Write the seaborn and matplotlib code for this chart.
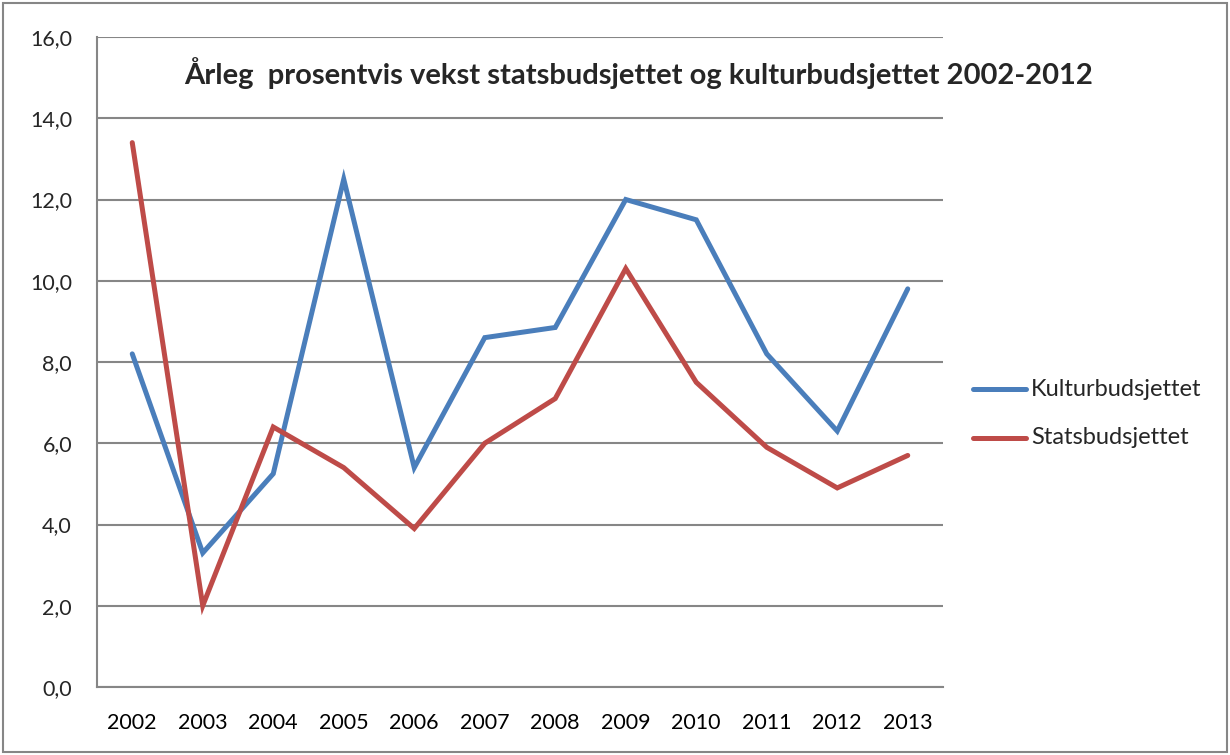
import numpy as np
import pandas as pd
import matplotlib
matplotlib.use("Agg")
import matplotlib.pyplot as plt
from matplotlib.patches import Rectangle
import seaborn as sns

years = ["2002", "2003", "2004", "2005", "2006", "2007",
         "2008", "2009", "2010", "2011", "2012", "2013"]
kultur = [8.2, 3.3, 5.25, 12.5, 5.4, 8.6, 8.85, 12.0, 11.5, 8.2, 6.3, 9.8]
stats = [13.4, 2.0, 6.4, 5.4, 3.9, 6.0, 7.1, 10.3, 7.5, 5.9, 4.9, 5.7]
series_names = ["Kulturbudsjettet", "Statsbudsjettet"]
colors = ["#4A7EBB", "#BE4B48"]
y_ticks = [0, 2, 4, 6, 8, 10, 12, 14, 16]
title = "Årleg  prosentvis vekst statsbudsjettet og kulturbudsjettet 2002-2012"

sns.set_style("white")
plt.rcParams["font.family"] = ["Lato", "DejaVu Sans"]

df = pd.DataFrame({
    "pos": list(range(len(years))) * 2,
    "value": kultur + stats,
    "serie": [series_names[0]] * len(years) + [series_names[1]] * len(years),
})

fig = plt.figure(figsize=(12.3, 7.55), dpi=100)
ax = fig.add_axes([97 / 1230, 68 / 755, (943 - 97) / 1230, (687 - 37) / 755])

sns.lineplot(data=df, x="pos", y="value", hue="serie", palette=colors,
             linewidth=3.6, ax=ax, legend=False, solid_capstyle="round",
             solid_joinstyle="miter")

ax.set_xlim(-0.5, len(years) - 0.5)
ax.set_ylim(0, 16)
ax.set_yticks(y_ticks)
ax.set_yticklabels([f"{v:.1f}".replace(".", ",") for v in y_ticks])
ax.set_xticks(range(len(years)))
ax.set_xticklabels(years)
ax.set_xticks(np.arange(-0.5, len(years), 1.0), minor=True)
ax.tick_params(axis="x", which="major", length=0, labelsize=15.5, pad=19, colors="black")
ax.tick_params(axis="x", which="minor", length=9, width=1.3, color="#868686", direction="out")
ax.tick_params(axis="y", length=7, width=1.3, color="#868686", labelsize=15.5, pad=11)
ax.set_xlabel("")
ax.set_ylabel("")

ax.grid(axis="y", color="#868686", linewidth=1.5)
ax.set_axisbelow(True)
for s in ["top", "right"]:
    ax.spines[s].set_visible(False)
for s in ["left", "bottom"]:
    ax.spines[s].set_color("#868686")
    ax.spines[s].set_linewidth(1.5)

fig.text(639 / 1230, 1 - 73 / 755, title, ha="center", va="center",
         fontsize=21, fontweight="bold")

# legend
for i, (name, col) in enumerate(zip(series_names, colors)):
    y = 1 - (389 + 49 * i) / 755
    fig.add_artist(plt.Line2D([973 / 1230, 1026 / 1230], [y, y], color=col,
                              linewidth=3.6, solid_capstyle="round",
                              transform=fig.transFigure))
    fig.text(1031 / 1230, y, name, ha="left", va="center", fontsize=17)

fig.add_artist(Rectangle((3 / 1230, 3 / 755), 1224 / 1230, 749 / 755,
                         transform=fig.transFigure, fill=False,
                         edgecolor="#868686", linewidth=1.5))

fig.savefig("out.png", dpi=100)
